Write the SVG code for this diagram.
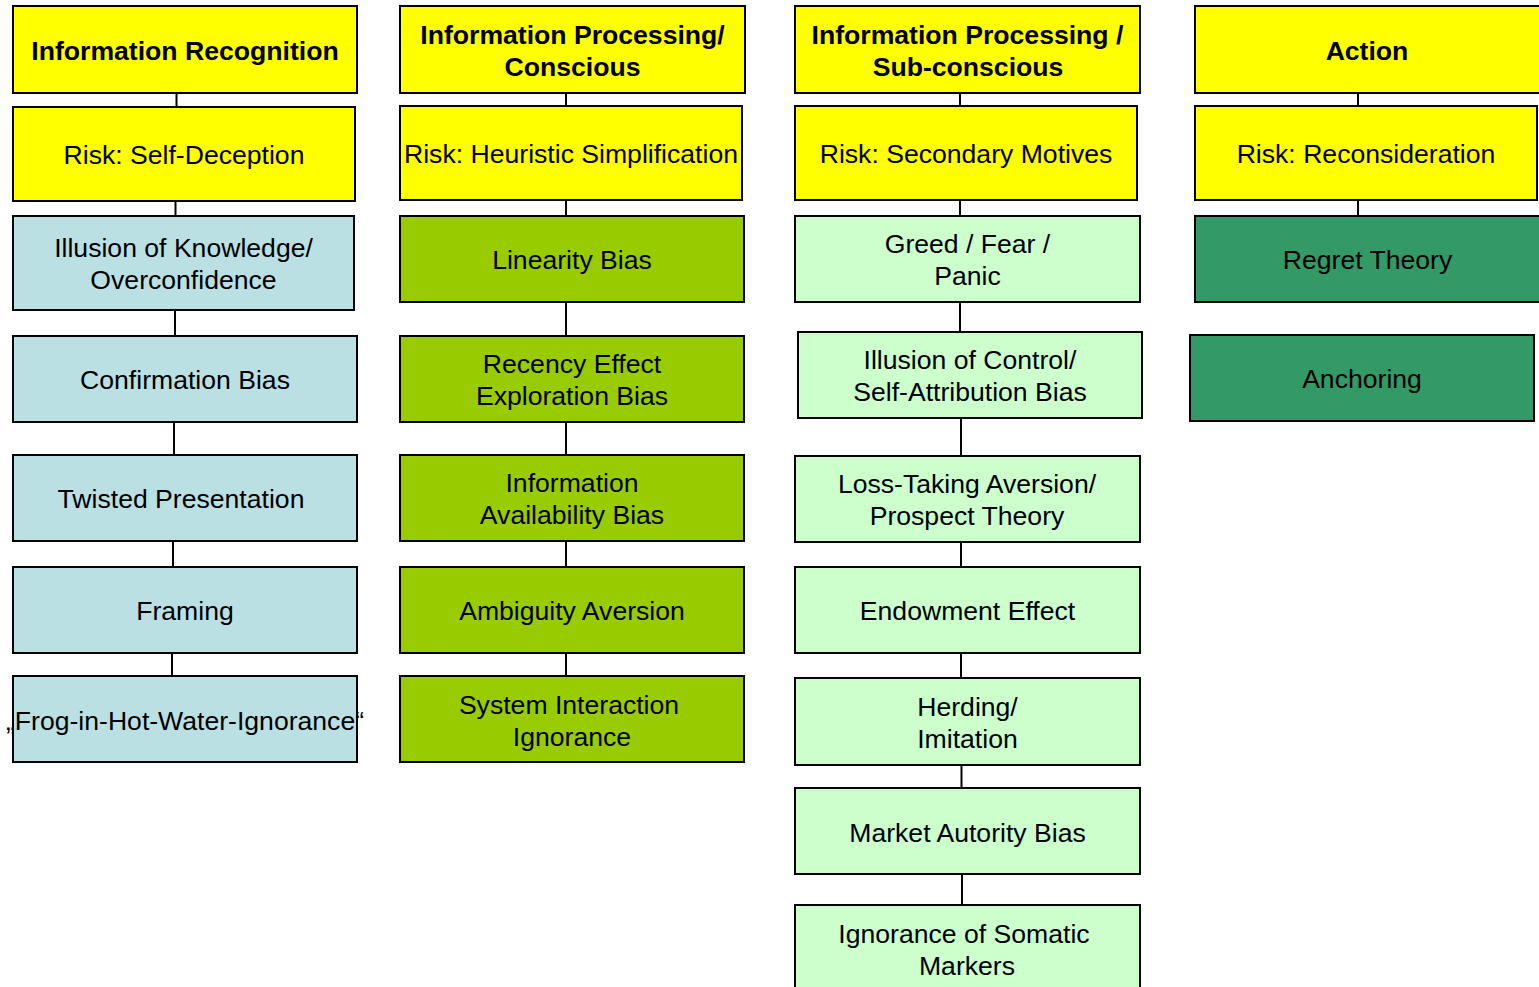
<svg xmlns="http://www.w3.org/2000/svg" width="1539" height="987" viewBox="0 0 1539 987">
<style>
rect{stroke:#000;stroke-width:2}
.y{fill:#FFFF00}.b{fill:#BBE0E3}.o{fill:#99CC00}.g{fill:#CCFFCC}.d{fill:#339966}
text{font-family:"Liberation Sans",Arial,sans-serif;font-size:26.6px;fill:#000;text-anchor:middle}
.h{font-weight:bold}
#connectors line{stroke:#000;stroke-width:2}
</style>
<rect x="0" y="0" width="1539" height="987" fill="#fff" style="stroke:none"/>
<g id="connectors">
<line x1="176.5" y1="93" x2="176.5" y2="107"/>
<line x1="175.5" y1="201" x2="175.5" y2="216"/>
<line x1="175" y1="310" x2="175" y2="336"/>
<line x1="174" y1="422" x2="174" y2="455"/>
<line x1="173" y1="541" x2="173" y2="567"/>
<line x1="172" y1="653" x2="172" y2="676"/>
<line x1="566" y1="93" x2="566" y2="106"/>
<line x1="566" y1="200" x2="566" y2="216"/>
<line x1="566" y1="302" x2="566" y2="336"/>
<line x1="566" y1="422" x2="566" y2="455"/>
<line x1="566" y1="541" x2="566" y2="567"/>
<line x1="566" y1="653" x2="566" y2="676"/>
<line x1="960" y1="93" x2="960" y2="106"/>
<line x1="960" y1="200" x2="960" y2="216"/>
<line x1="960" y1="302" x2="960" y2="332"/>
<line x1="961" y1="418" x2="961" y2="456"/>
<line x1="961" y1="542" x2="961" y2="567"/>
<line x1="961" y1="653" x2="961" y2="678"/>
<line x1="961.5" y1="765" x2="961.5" y2="788"/>
<line x1="962" y1="874" x2="962" y2="905"/>
<line x1="1358" y1="93" x2="1358" y2="106"/>
<line x1="1358" y1="200" x2="1358" y2="216"/>
</g>
<g id="n-ir"><rect class="y" x="13" y="6" width="344" height="87"/><text class="h" x="185" y="60">Information Recognition</text></g>
<g id="n-risk1"><rect class="y" x="13" y="107" width="342" height="94"/><text x="184" y="164">Risk: Self-Deception</text></g>
<g id="n-illusion"><rect class="b" x="13" y="216" width="341" height="94"/><text x="183.5" y="257">Illusion of Knowledge/</text><text x="183.5" y="289">Overconfidence</text></g>
<g id="n-confirm"><rect class="b" x="13" y="336" width="344" height="86"/><text x="185" y="389">Confirmation Bias</text></g>
<g id="n-twisted"><rect class="b" x="13" y="455" width="344" height="86"/><text x="181" y="508">Twisted Presentation</text></g>
<g id="n-framing"><rect class="b" x="13" y="567" width="344" height="86"/><text x="185" y="620">Framing</text></g>
<g id="n-frog"><rect class="b" x="13" y="676" width="344" height="86"/><text x="185" y="730">„Frog-in-Hot-Water-Ignorance“</text></g>

<g id="n-ipc"><rect class="y" x="400" y="6" width="345" height="87"/><text class="h" x="572.5" y="44">Information Processing/</text><text class="h" x="572.5" y="76">Conscious</text></g>
<g id="n-risk2"><rect class="y" x="400" y="106" width="342" height="94"/><text x="571" y="163">Risk: Heuristic Simplification</text></g>
<g id="n-linear"><rect class="o" x="400" y="216" width="344" height="86"/><text x="572" y="269">Linearity Bias</text></g>
<g id="n-recency"><rect class="o" x="400" y="336" width="344" height="86"/><text x="572" y="373">Recency Effect</text><text x="572" y="405">Exploration Bias</text></g>
<g id="n-avail"><rect class="o" x="400" y="455" width="344" height="86"/><text x="572" y="492">Information</text><text x="572" y="524">Availability Bias</text></g>
<g id="n-ambig"><rect class="o" x="400" y="567" width="344" height="86"/><text x="572" y="620">Ambiguity Aversion</text></g>
<g id="n-system"><rect class="o" x="400" y="676" width="344" height="86"/><text x="569" y="714">System Interaction</text><text x="572" y="746">Ignorance</text></g>

<g id="n-ips"><rect class="y" x="795" y="6" width="345" height="87"/><text class="h" x="967.5" y="44">Information Processing /</text><text class="h" x="968" y="76">Sub-conscious</text></g>
<g id="n-risk3"><rect class="y" x="795" y="106" width="342" height="94"/><text x="966" y="163">Risk: Secondary Motives</text></g>
<g id="n-greed"><rect class="g" x="795" y="216" width="345" height="86"/><text x="967.5" y="253">Greed / Fear /</text><text x="967.5" y="285">Panic</text></g>
<g id="n-control"><rect class="g" x="798" y="332" width="344" height="86"/><text x="970" y="369">Illusion of Control/</text><text x="970" y="401">Self-Attribution Bias</text></g>
<g id="n-loss"><rect class="g" x="795" y="456" width="345" height="86"/><text x="967" y="493">Loss-Taking Aversion/</text><text x="967" y="525">Prospect Theory</text></g>
<g id="n-endow"><rect class="g" x="795" y="567" width="345" height="86"/><text x="967.5" y="620">Endowment Effect</text></g>
<g id="n-herd"><rect class="g" x="795" y="678" width="345" height="87"/><text x="967.5" y="716">Herding/</text><text x="967.5" y="748">Imitation</text></g>
<g id="n-market"><rect class="g" x="795" y="788" width="345" height="86"/><text x="967.5" y="842">Market Autority Bias</text></g>
<g id="n-somatic"><rect class="g" x="795" y="905" width="345" height="100"/><text x="964" y="943">Ignorance of Somatic</text><text x="967" y="975">Markers</text></g>

<g id="n-action"><rect class="y" x="1195" y="6" width="350" height="87"/><text class="h" x="1367" y="60">Action</text></g>
<g id="n-risk4"><rect class="y" x="1195" y="106" width="342" height="94"/><text x="1366" y="163">Risk: Reconsideration</text></g>
<g id="n-regret"><rect class="d" x="1195" y="216" width="350" height="86"/><text x="1367.5" y="269">Regret Theory</text></g>
<g id="n-anchor"><rect class="d" x="1190" y="335" width="344" height="86"/><text x="1362" y="388">Anchoring</text></g>
</svg>
